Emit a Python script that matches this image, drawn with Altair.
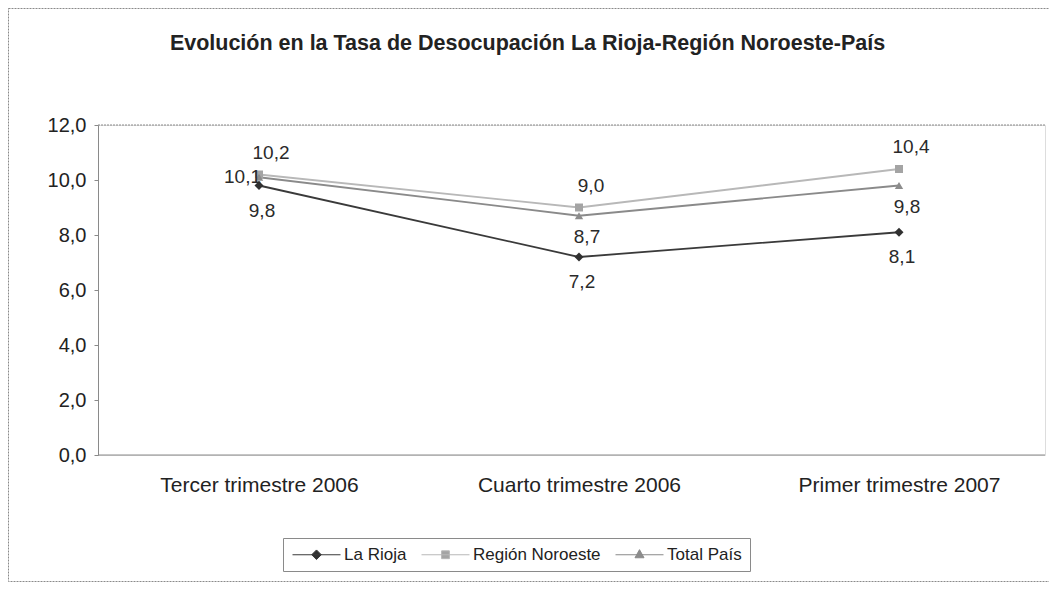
import altair as alt
import pandas as pd

categories = ["Tercer trimestre 2006", "Cuarto trimestre 2006", "Primer trimestre 2007"]
series_names = ["La Rioja", "Región Noroeste", "Total País"]
la_rioja = [9.8, 7.2, 8.1]
region_noroeste = [10.2, 9.0, 10.4]
total_pais = [10.1, 8.7, 9.8]
y_ticks = [0, 2, 4, 6, 8, 10, 12]

rows = []
for s, vals in zip(series_names, [la_rioja, region_noroeste, total_pais]):
    for i, (c, v) in enumerate(zip(categories, vals)):
        if s == "Región Noroeste":
            pos = "above"
        elif s == "La Rioja":
            pos = "below"
        else:
            pos = "left" if i == 0 else "below2"
        rows.append({"periodo": c, "serie": s, "valor": v,
                     "etiqueta": f"{v:.1f}".replace(".", ","), "pos": pos})
df = pd.DataFrame(rows)

FONT = "Liberation Sans"
W, H = 947, 330

line_colors = ["#3a3a3a", "#b8b8b8", "#8a8a8a"]
marker_colors = ["#303030", "#a4a4a4", "#8c8c8c"]
marker_shapes = ["diamond", "square", "triangle-up"]
marker_sizes = [80, 64, 70]
legend_paths = [
    "M-8,0H8M-1.6,0L0,-1.6L1.6,0L0,1.6Z",
    "M-8,0H8M-1.3,-1.3H1.3V1.3H-1.3Z",
    "M-8,0H8M0,-1.7L1.5,1H-1.5Z",
]

x_enc = alt.X("periodo:N", sort=categories,
              scale=alt.Scale(type="point", range=[161, 801], padding=0),
              axis=alt.Axis(title=None, labelAngle=0, ticks=False, labelPadding=19,
                            labelFontSize=21, labelColor="#222222", labelFont=FONT,
                            labelLimit=400, domain=False))
y_enc = alt.Y("valor:Q", scale=alt.Scale(domain=[0, 12], nice=False),
              axis=alt.Axis(title=None, values=y_ticks, grid=False, tickSize=4,
                            tickColor="#8a8a8a", domainColor="#8a8a8a",
                            labelExpr="replace(format(datum.value, '.1f'), '.', ',')",
                            labelFontSize=20, labelColor="#222222", labelFont=FONT,
                            labelPadding=8))

base = alt.Chart(df).encode(x=x_enc, y=y_enc)

layers = []

frame = alt.Chart(pd.DataFrame({"a": [0]})).mark_rect(
    fillOpacity=0, stroke="#8a8a8a", strokeWidth=1, strokeDash=[2, 1]
).encode(x=alt.value(-89.5), x2=alt.value(W + 20), y=alt.value(-116.5), y2=alt.value(456.5))
layers.append(frame)

edge_df = pd.DataFrame({"v": [12, 0], "kind": ["top", "bottom"]})
layers.append(alt.Chart(edge_df).transform_filter(alt.datum.kind == "top").mark_rule(
    color="#8a8a8a", strokeWidth=1, strokeDash=[2, 1]).encode(y=alt.Y("v:Q")))
layers.append(alt.Chart(edge_df).transform_filter(alt.datum.kind == "bottom").mark_rule(
    color="#8a8a8a", strokeWidth=1).encode(y=alt.Y("v:Q")))

for s, lc in zip(series_names, line_colors):
    layers.append(base.transform_filter(alt.datum.serie == s).mark_line(
        strokeWidth=1.8, color=lc))

for s, mc, shp, sz in zip(series_names, marker_colors, marker_shapes, marker_sizes):
    layers.append(base.transform_filter(alt.datum.serie == s).mark_point(
        filled=True, opacity=1, size=sz, shape=shp, color=mc))

def labels(pos, dx, dy, align="center"):
    return base.transform_filter(alt.datum.pos == pos).mark_text(
        font=FONT, fontSize=19, color="#2a2a2a", dx=dx, dy=dy, align=align
    ).encode(text="etiqueta:N")

layers.append(labels("above", 12, -22))
layers.append(labels("below", 3, 25))
layers.append(labels("below2", 8, 21))
layers.append(labels("left", 2, 0, "right"))

def make_legend():
    return alt.Legend(title=None, orient="none", legendX=185, legendY=413,
                      direction="horizontal", strokeColor="#8a8a8a",
                      padding=8, labelFontSize=17, labelFont=FONT, labelColor="#222222",
                      symbolSize=36, symbolOffset=17, labelOffset=19, columnPadding=12,
                      symbolStrokeWidth=1, symbolOpacity=1)

legend_layer = base.transform_filter("false").mark_point(filled=True, strokeWidth=1).encode(
    stroke=alt.Stroke("serie:N", scale=alt.Scale(domain=series_names, range=line_colors),
                      legend=make_legend()),
    fill=alt.Fill("serie:N", scale=alt.Scale(domain=series_names, range=marker_colors),
                  legend=make_legend()),
    shape=alt.Shape("serie:N", scale=alt.Scale(domain=series_names, range=legend_paths),
                    legend=make_legend()),
)
layers.append(legend_layer)

chart = alt.layer(*layers).properties(
    width=W, height=H,
    autosize=alt.AutoSizeParams(type="none"),
    padding={"left": 90, "top": 117, "right": 4, "bottom": 127},
    title=alt.TitleParams(text="Evolución en la Tasa de Desocupación La Rioja-Región Noroeste-País",
                          anchor="middle", frame="group", dx=-44, offset=-63,
                          baseline="alphabetic", fontSize=21.5,
                          font=FONT, fontWeight="bold", color="#222222"),
).configure_view(stroke=None).configure(background="white")

chart.save("out.html", embed_options={"renderer": "svg", "actions": False})
